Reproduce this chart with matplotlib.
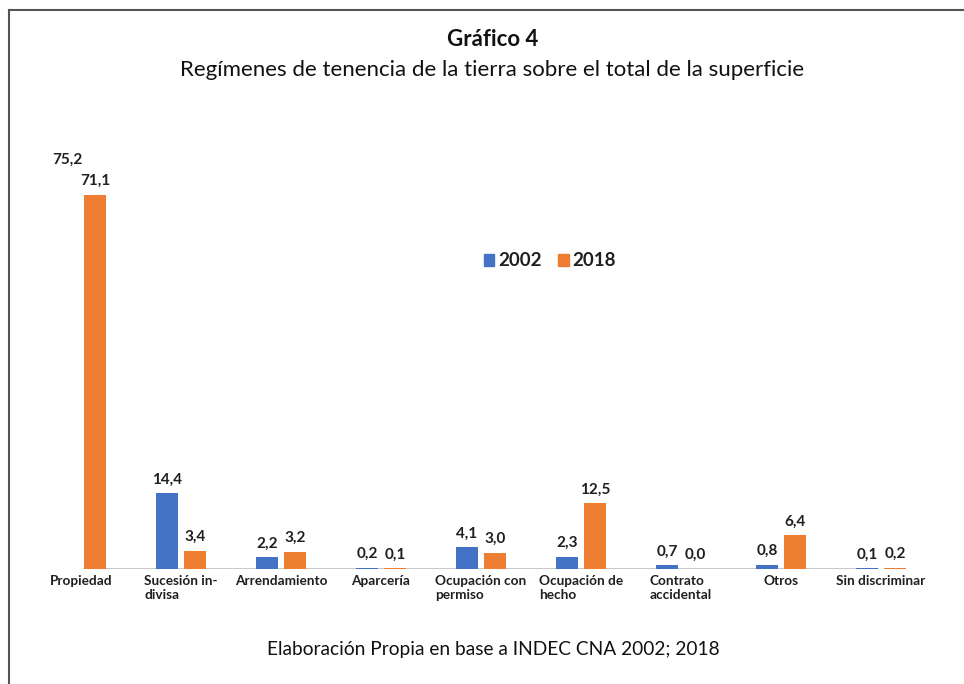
import matplotlib
matplotlib.use("Agg")
import matplotlib.pyplot as plt
from matplotlib.lines import Line2D
from matplotlib.patches import Patch
import numpy as np

categories = ["Propiedad", "Sucesión in-\ndivisa", "Arrendamiento", "Aparcería",
              "Ocupación con\npermiso", "Ocupación de\nhecho", "Contrato\naccidental",
              "Otros", "Sin discriminar"]
v2002 = [75.2, 14.4, 2.2, 0.2, 4.1, 2.3, 0.7, 0.8, 0.1]
v2018 = [71.1, 3.4, 3.2, 0.1, 3.0, 12.5, 0.0, 6.4, 0.2]
labels2002 = ["75,2", "14,4", "2,2", "0,2", "4,1", "2,3", "0,7", "0,8", "0,1"]
labels2018 = ["71,1", "3,4", "3,2", "0,1", "3,0", "12,5", "0,0", "6,4", "0,2"]
series = ["2002", "2018"]

BLUE = "#4472C4"
ORANGE = "#ED7D31"
TXT = "#1F1F1F"
plt.rcParams['font.family'] = ['Lato', 'DejaVu Sans']

W, H = 964, 684
fig = plt.figure(figsize=(W/100, H/100), dpi=100)
fig.patch.set_facecolor("white")

base_y = 569
ppu = 5.26
ymax = 80
ax = fig.add_axes([0, (H - base_y)/H, 1, ymax*ppu/H])
ax.set_xlim(-0.81, -0.81 + 9.64)
ax.set_ylim(0, ymax)
ax.axis("off")

x = np.arange(len(categories))
off = 0.14
bw = 0.22
# first 2002 bar is hidden in the original (only its label is shown)
colors2002 = ["white"] + [BLUE]*(len(categories)-1)
ax.bar(x - off, v2002, bw, color=colors2002, zorder=2)
ax.bar(x + off, v2018, bw, color=ORANGE, zorder=2)
ax.plot([x[0] + off - bw/2, x[-1] - off + bw/2], [0, 0], color="#BFBFBF", lw=1.2, zorder=1)

for xi, v, l in zip(x, v2002, labels2002):
    ax.annotate(l, (xi - off, v), xytext=(0, 5), textcoords="offset points",
                ha="center", va="bottom", fontsize=11, fontweight="bold", color=TXT)
for xi, v, l in zip(x, v2018, labels2018):
    ax.annotate(l, (xi + off, v), xytext=(0, 5), textcoords="offset points",
                ha="center", va="bottom", fontsize=11, fontweight="bold", color=TXT)

for xi, c in zip(x, categories):
    ax.annotate(c, (xi, 0), xytext=(0, -4), textcoords="offset points",
                ha="center", va="top", multialignment="left", fontsize=9.8,
                fontweight="bold", color=TXT, linespacing=1.2)

handles = [Patch(color=BLUE), Patch(color=ORANGE)]
fig.legend(handles, series, loc="center", bbox_to_anchor=(550/W, 1 - 261/H), ncol=2,
           frameon=False, prop={"weight": "bold", "size": 13.5}, handlelength=0.55,
           handleheight=0.55, handletextpad=0.2, columnspacing=0.9, labelcolor=TXT)

fig.text(493/W, 1 - 40/H, "Gráfico 4", ha="center", va="center", fontsize=16,
         fontweight="bold", color="#111111")
fig.text(492/W, 1 - 70/H, "Regímenes de tenencia de la tierra sobre el total de la superficie",
         ha="center", va="center", fontsize=16, color="#111111")
fig.text(493/W, 1 - 649/H, "Elaboración Propia en base a INDEC CNA 2002; 2018",
         ha="center", va="center", fontsize=13.8, color="#111111")

fig.add_artist(Line2D([9/W, 9/W], [0, 1 - 10/H], transform=fig.transFigure, color="#555555", lw=1.5))
fig.add_artist(Line2D([9/W, 1], [1 - 10/H, 1 - 10/H], transform=fig.transFigure, color="#555555", lw=1.5))

fig.savefig("out.png", dpi=100, facecolor="white")
